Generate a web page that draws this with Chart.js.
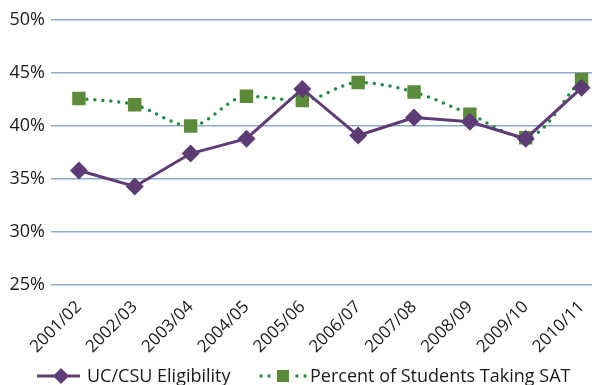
<!DOCTYPE html>
<html>
<head>
<meta charset="utf-8">
<script src="https://cdn.jsdelivr.net/npm/chart.js@4"></script>
<style>
  html, body { margin: 0; padding: 0; background: #fff; overflow: hidden; }
  #wrap { width: 619px; height: 385px; }
</style>
</head>
<body>
<div id="wrap"><canvas id="trend" width="619" height="385"></canvas></div>
<script>
const years = ["2001/02", "2002/03", "2003/04", "2004/05", "2005/06",
               "2006/07", "2007/08", "2008/09", "2009/10", "2010/11"];
const eligibility = [35.8, 34.3, 37.4, 38.8, 43.5, 39.1, 40.8, 40.4, 38.8, 43.6];
const takingSat = [42.6, 42.0, 40.0, 42.8, 42.4, 44.1, 43.2, 41.1, 38.9, 44.4];
const yTicks = [25, 30, 35, 40, 45, 50];

const purple = "#5d3c76";
const satSquare = "#5a8a3a";
const satDots = "#1f8c3f";
const fontFamily = "'Open Sans', 'Noto Sans', sans-serif";

// legend drawn by hand: line + marker + label, centred under the axis
const bottomLegend = {
  id: "bottomLegend",
  afterDraw(chart) {
    const ctx = chart.ctx;
    const y = 376;
    ctx.save();
    ctx.font = "18px " + fontFamily;
    ctx.textBaseline = "middle";

    // UC/CSU Eligibility
    ctx.strokeStyle = purple;
    ctx.lineWidth = 3;
    ctx.beginPath();
    ctx.moveTo(37, y);
    ctx.lineTo(80, y);
    ctx.stroke();
    ctx.fillStyle = purple;
    ctx.beginPath();
    ctx.moveTo(61, y - 8);
    ctx.lineTo(69, y);
    ctx.lineTo(61, y + 8);
    ctx.lineTo(53, y);
    ctx.closePath();
    ctx.fill();
    ctx.fillStyle = "#1a1a1a";
    ctx.fillText("UC/CSU Eligibility", 87, y + 1);

    // Percent of Students Taking SAT
    ctx.fillStyle = satDots;
    [261, 269, 297, 305].forEach(x => {
      ctx.beginPath();
      ctx.arc(x, y, 1.7, 0, Math.PI * 2);
      ctx.fill();
    });
    ctx.fillStyle = satSquare;
    ctx.fillRect(277, y - 6, 12, 12);
    ctx.fillStyle = "#1a1a1a";
    ctx.fillText("Percent of Students Taking SAT", 310, y + 1);
    ctx.restore();
  }
};

new Chart(document.getElementById("trend"), {
  type: "line",
  data: {
    labels: years,
    datasets: [
      {
        label: "UC/CSU Eligibility",
        data: eligibility,
        borderColor: purple,
        backgroundColor: purple,
        borderWidth: 3,
        pointStyle: "rectRot",
        pointRadius: 9,
        pointBorderWidth: 0,
        tension: 0
      },
      {
        label: "Percent of Students Taking SAT",
        data: takingSat,
        borderColor: satDots,
        backgroundColor: satSquare,
        borderWidth: 3.5,
        borderDash: [0, 8],
        borderCapStyle: "round",
        pointStyle: "rect",
        pointRadius: 9.5,
        pointBorderWidth: 0,
        tension: 0.35,
        cubicInterpolationMode: "monotone"
      }
    ]
  },
  options: {
    responsive: false,
    animation: false,
    layout: { padding: { top: 20, right: 2, bottom: 0, left: 0 } },
    plugins: {
      legend: { display: false },
      tooltip: { enabled: false }
    },
    scales: {
      x: {
        offset: true,
        grid: { display: false },
        border: { display: false },
        ticks: {
          color: "#1a1a1a",
          font: { family: fontFamily, size: 17 },
          maxRotation: 45,
          minRotation: 45,
          padding: 4
        },
        afterFit(scale) { scale.height = 100; }
      },
      y: {
        min: 25,
        max: 50,
        afterBuildTicks(scale) { scale.ticks = yTicks.map(v => ({ value: v })); },
        grid: { color: "#8eaacb", lineWidth: 1.5, drawTicks: false },
        border: { display: false },
        ticks: {
          color: "#1a1a1a",
          font: { family: fontFamily, size: 18 },
          padding: 6,
          callback: v => v + "%"
        },
        afterFit(scale) { scale.width = 51; }
      }
    }
  },
  plugins: [bottomLegend]
});
</script>
</body>
</html>
